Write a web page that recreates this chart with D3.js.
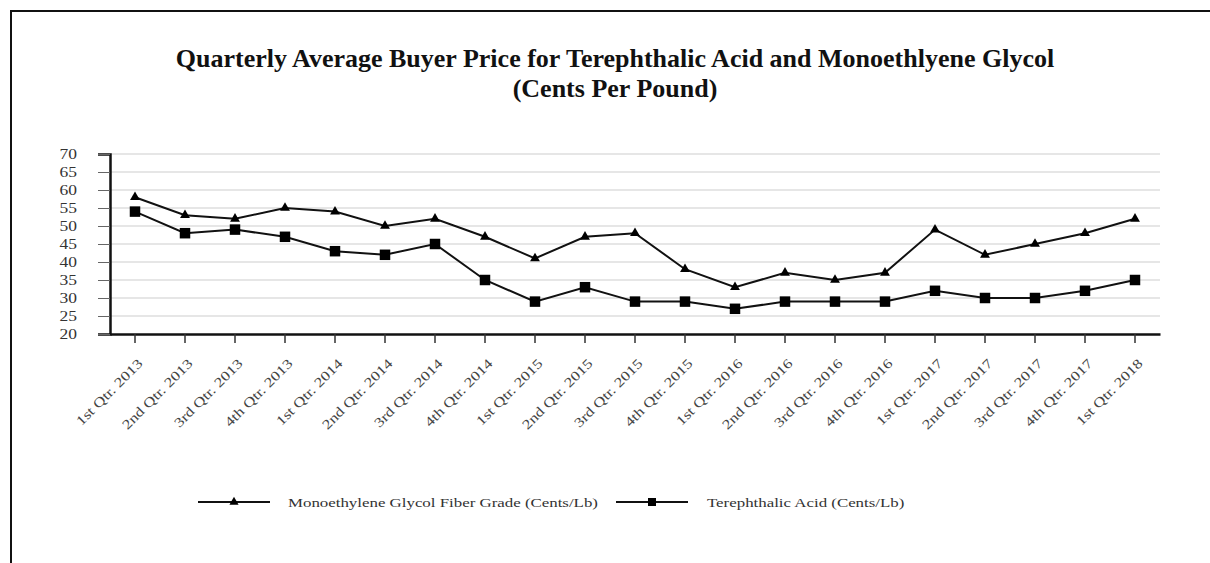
<!DOCTYPE html>
<html>
<head>
<meta charset="utf-8">
<title>Quarterly Average Buyer Price</title>
<script src="https://d3js.org/d3.v7.min.js"></script>
<style>
  body { margin: 0; background: #fff; font-family: "Liberation Serif", "Times New Roman", serif; }
</style>
</head>
<body>
<svg id="chart"></svg>
<script>
// data
var quarters = ["1st Qtr. 2013", "2nd Qtr. 2013", "3rd Qtr. 2013", "4th Qtr. 2013",
  "1st Qtr. 2014", "2nd Qtr. 2014", "3rd Qtr. 2014", "4th Qtr. 2014",
  "1st Qtr. 2015", "2nd Qtr. 2015", "3rd Qtr. 2015", "4th Qtr. 2015",
  "1st Qtr. 2016", "2nd Qtr. 2016", "3rd Qtr. 2016", "4th Qtr. 2016",
  "1st Qtr. 2017", "2nd Qtr. 2017", "3rd Qtr. 2017", "4th Qtr. 2017",
  "1st Qtr. 2018"];
var megValues = [58, 53, 52, 55, 54, 50, 52, 47, 41, 47, 48, 38, 33, 37, 35, 37, 49, 42, 45, 48, 52];
var ptaValues = [54, 48, 49, 47, 43, 42, 45, 35, 29, 33, 29, 29, 27, 29, 29, 29, 32, 30, 30, 32, 35];
var yTicks = [20, 25, 30, 35, 40, 45, 50, 55, 60, 65, 70];
var seriesNames = ["Monoethylene Glycol Fiber Grade (Cents/Lb)", "Terephthalic Acid (Cents/Lb)"];

var W = 1210, H = 563;
var margin = {top: 154, right: 50, bottom: 229, left: 110};
var width = W - margin.left - margin.right,
    height = H - margin.top - margin.bottom;
var stretch = 1.25; // the small text in the original is a bit wide

var svg = d3.select("#chart").attr("width", W).attr("height", H);

// outer frame (runs off the right and bottom edge like the original)
svg.append("rect")
  .attr("x", 11).attr("y", 11)
  .attr("width", W + 20).attr("height", H + 20)
  .attr("fill", "none").attr("stroke", "#111").attr("stroke-width", 2);

// title
svg.append("text")
  .attr("x", 615).attr("y", 67)
  .attr("text-anchor", "middle")
  .style("font-size", "26px").style("font-weight", "bold").style("fill", "#111")
  .text("Quarterly Average Buyer Price for Terephthalic Acid and Monoethlyene Glycol");
svg.append("text")
  .attr("x", 615).attr("y", 97)
  .attr("text-anchor", "middle")
  .style("font-size", "26px").style("font-weight", "bold").style("fill", "#111")
  .text("(Cents Per Pound)");

var g = svg.append("g").attr("transform", "translate(" + margin.left + "," + margin.top + ")");

var x = d3.scaleBand().domain(quarters).range([0, width]);
var y = d3.scaleLinear().domain([20, 70]).range([height, 0]);

// gridlines
g.append("g")
  .selectAll("line")
  .data(yTicks.slice(1))
  .join("line")
  .attr("x1", 0).attr("x2", width)
  .attr("y1", function(d) { return y(d); })
  .attr("y2", function(d) { return y(d); })
  .attr("stroke", "#e6e6e6").attr("stroke-width", 2);

// y axis
var yAxis = g.append("g")
  .call(d3.axisLeft(y).tickValues(yTicks).tickSize(12));
yAxis.select(".domain").attr("stroke", "#111").attr("stroke-width", 2.5);
yAxis.selectAll(".tick line").attr("stroke", "#666");
yAxis.selectAll("text")
  .attr("x", 0)
  .attr("transform", "translate(-33,0) scale(" + stretch + ",1)")
  .style("font-family", "Liberation Serif, serif").style("font-size", "14px").style("fill", "#333");

// x axis
var xAxis = g.append("g")
  .attr("transform", "translate(0," + height + ")")
  .call(d3.axisBottom(x).tickSizeInner(9).tickSizeOuter(0));
xAxis.select(".domain").attr("stroke", "#111").attr("stroke-width", 2.5);
xAxis.selectAll(".tick line").attr("stroke", "#333").attr("stroke-width", 1.5);
xAxis.selectAll("text")
  .attr("x", 0).attr("y", 0).attr("dy", "0.35em")
  .attr("text-anchor", "end")
  .attr("transform", "translate(5,27) rotate(-45) scale(" + stretch + ",1)")
  .style("font-family", "Liberation Serif, serif").style("font-size", "13.5px").style("fill", "#444");

var line = d3.line()
  .x(function(d, i) { return x(quarters[i]) + x.bandwidth() / 2; })
  .y(function(d) { return y(d); });

var triangle = d3.symbol().type(d3.symbolTriangle).size(42);
var square = d3.symbol().type(d3.symbolSquare).size(110);

function drawSeries(values, symbol) {
  g.append("path")
    .datum(values)
    .attr("d", line)
    .attr("fill", "none").attr("stroke", "#111").attr("stroke-width", 2);
  g.append("g")
    .selectAll("path")
    .data(values)
    .join("path")
    .attr("d", symbol)
    .attr("transform", function(d, i) {
      return "translate(" + (x(quarters[i]) + x.bandwidth() / 2) + "," + y(d) + ")";
    })
    .attr("fill", "#000");
}
drawSeries(megValues, triangle);
drawSeries(ptaValues, square);

// legend
var legendItems = [
  {name: seriesNames[0], sym: d3.symbol().type(d3.symbolTriangle).size(36), x0: 198, x1: 270, tx: 288},
  {name: seriesNames[1], sym: d3.symbol().type(d3.symbolSquare).size(64), x0: 616, x1: 688, tx: 707}
];
var ly = 502;
var legend = svg.append("g");
legendItems.forEach(function(it) {
  legend.append("line")
    .attr("x1", it.x0).attr("x2", it.x1).attr("y1", ly).attr("y2", ly)
    .attr("stroke", "#111").attr("stroke-width", 2);
  legend.append("path")
    .attr("d", it.sym)
    .attr("transform", "translate(" + ((it.x0 + it.x1) / 2) + "," + ly + ")")
    .attr("fill", "#000");
  legend.append("text")
    .attr("x", 0).attr("y", 0).attr("dy", "0.35em")
    .attr("transform", "translate(" + it.tx + "," + ly + ") scale(" + stretch + ",1)")
    .style("font-size", "13.5px").style("fill", "#333")
    .text(it.name);
});
</script>
</body>
</html>
